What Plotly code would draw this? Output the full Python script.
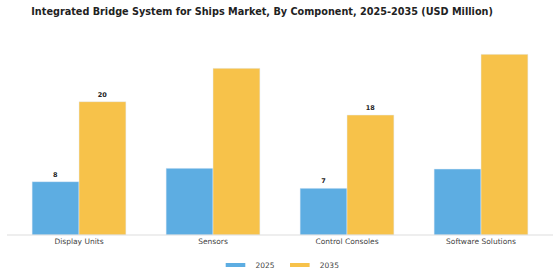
import plotly.graph_objects as go

categories = ["Display Units", "Sensors", "Control Consoles", "Software Solutions"]
series_names = ["2025", "2035"]
values_2025 = [8, 10, 7, 9.9]
values_2035 = [20, 25, 18, 27.1]
show_label = [True, False, True, False]
colors = ["#5DADE2", "#F7C24A"]

def labels(vals):
    return [f"{v:g}" if s else "" for v, s in zip(vals, show_label)]

label_font = dict(size=6.5, color="#222", family="DejaVu Sans", weight="bold")

fig = go.Figure()
for name, vals, col in zip(series_names, [values_2025, values_2035], colors):
    fig.add_trace(go.Bar(name=name, x=categories, y=vals, marker_color=col,
                         text=labels(vals), textposition="outside",
                         textfont=label_font, cliponaxis=False, showlegend=False))
for name, col in zip(series_names, colors):
    fig.add_trace(go.Scatter(name=name, x=[None], y=[None], mode="markers",
                             marker=dict(symbol="line-ew", size=14, color=col,
                                         line=dict(color=col, width=4)),
                             showlegend=True))

fig.update_layout(
    width=560, height=280,
    margin=dict(l=12, r=12, t=40, b=45, autoexpand=False),
    barmode="group", bargap=0.3, bargroupgap=0,
    plot_bgcolor="white", paper_bgcolor="white",
    font=dict(family="DejaVu Sans", size=7.5, color="#333"),
    title=dict(text="<b>Integrated Bridge System for Ships Market, By Component, 2025-2035 (USD Million)</b>",
               x=0.468, xanchor="center", y=0.96, yanchor="middle",
               font=dict(size=9.7, color="#222", family="DejaVu Sans")),
    legend=dict(orientation="h", x=0.5, xanchor="center", y=-0.08, yanchor="top",
                font=dict(size=7.5, color="#444"), itemwidth=30),
    shapes=[dict(type="line", xref="paper", yref="paper", x0=-0.0093, x1=1.0093, y0=0, y1=0,
                 line=dict(color="#dddddd", width=1))],
)
fig.update_xaxes(showline=False, ticks="", tickfont=dict(size=7.5, color="#444"))
fig.update_yaxes(range=[0, 29.25], visible=False, showgrid=False)

fig.write_html("out.html")
